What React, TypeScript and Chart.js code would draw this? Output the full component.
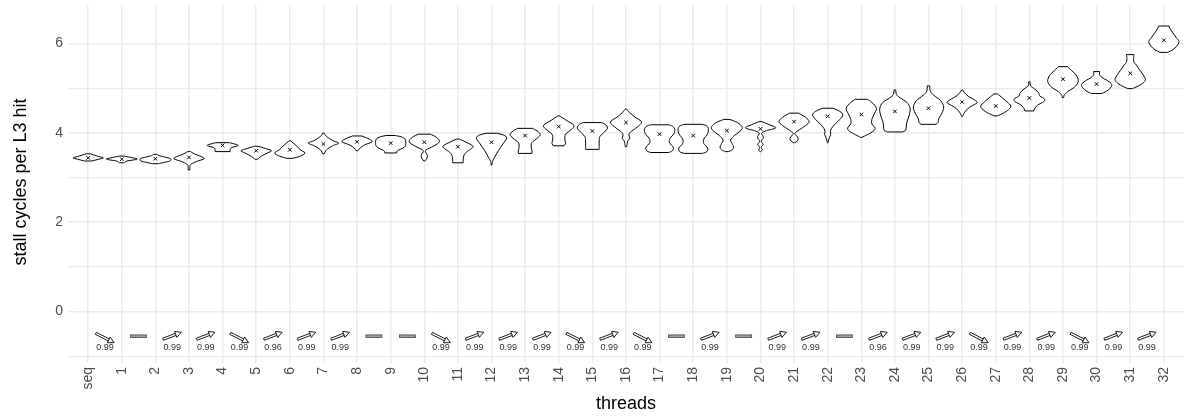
import React, { useEffect, useRef } from 'react';
import { Chart, registerables } from 'chart.js';

Chart.register(...registerables);

const FONT = '"Liberation Sans", Arial, Helvetica, sans-serif';

// categories (x axis)
const threadLabels = ['seq', '1', '2', '3', '4', '5', '6', '7', '8', '9', '10', '11', '12', '13', '14', '15', '16', '17', '18', '19', '20', '21', '22', '23', '24', '25', '26', '27', '28', '29', '30', '31', '32'];

// mean value per category (the "x" markers)
const meanStallCycles = [3.44, 3.41, 3.42, 3.45, 3.72, 3.60, 3.62, 3.75, 3.80, 3.77, 3.79, 3.69, 3.79, 3.94, 4.14, 4.04, 4.23, 3.97, 3.94, 4.05, 4.09, 4.25, 4.37, 4.41, 4.48, 4.55, 4.69, 4.60, 4.78, 5.20, 5.09, 5.33, 6.07];

// violin outlines: [value, relative half-width 0..1], bottom to top
const violinProfiles: number[][][] = [
  [[3.37, 0.25], [3.41, 0.7], [3.44, 1], [3.47, 0.7], [3.53, 0.15]],
  [[3.33, 0.15], [3.37, 0.35], [3.40, 0.9], [3.42, 1], [3.45, 0.6], [3.48, 0.15]],
  [[3.31, 0.2], [3.34, 0.6], [3.37, 0.95], [3.42, 1], [3.46, 0.6], [3.49, 0.25], [3.52, 0.1]],
  [[3.17, 0.06], [3.25, 0.06], [3.30, 0.15], [3.36, 0.5], [3.42, 1], [3.47, 0.8], [3.53, 0.35], [3.58, 0.1]],
  [[3.58, 0.5], [3.63, 0.5], [3.67, 0.6], [3.71, 1], [3.74, 0.9], [3.78, 0.45]],
  [[3.41, 0.1], [3.47, 0.3], [3.55, 0.75], [3.60, 1], [3.65, 0.6], [3.70, 0.1]],
  [[3.43, 0.2], [3.48, 0.7], [3.55, 1], [3.62, 0.7], [3.72, 0.4], [3.82, 0.05]],
  [[3.53, 0.05], [3.62, 0.2], [3.71, 0.6], [3.77, 1], [3.83, 0.6], [3.92, 0.2], [3.99, 0.05]],
  [[3.60, 0.05], [3.66, 0.2], [3.73, 0.5], [3.80, 1], [3.86, 0.8], [3.93, 0.3]],
  [[3.55, 0.4], [3.60, 0.45], [3.68, 0.9], [3.76, 1], [3.86, 0.95], [3.91, 0.7], [3.94, 0.3]],
  [[3.37, 0.03], [3.43, 0.17], [3.50, 0.2], [3.57, 0.08], [3.62, 0.12], [3.70, 0.6], [3.80, 1], [3.90, 0.8], [3.97, 0.4]],
  [[3.33, 0.35], [3.40, 0.35], [3.50, 0.4], [3.58, 0.6], [3.69, 1], [3.78, 0.6], [3.86, 0.1]],
  [[3.28, 0.03], [3.36, 0.06], [3.45, 0.2], [3.60, 0.45], [3.75, 0.75], [3.88, 1], [3.95, 0.8], [3.99, 0.35]],
  [[3.54, 0.45], [3.60, 0.45], [3.68, 0.4], [3.78, 0.45], [3.88, 0.8], [3.96, 1], [4.04, 0.8], [4.10, 0.5]],
  [[3.71, 0.35], [3.76, 0.45], [3.86, 0.4], [3.97, 0.45], [4.08, 0.85], [4.17, 1], [4.28, 0.5], [4.38, 0.05]],
  [[3.63, 0.45], [3.72, 0.45], [3.82, 0.45], [3.92, 0.5], [4.02, 0.8], [4.11, 1], [4.19, 0.85], [4.23, 0.6]],
  [[3.69, 0.05], [3.76, 0.08], [3.82, 0.12], [3.88, 0.25], [3.93, 0.2], [4.00, 0.25], [4.08, 0.55], [4.19, 0.95], [4.26, 1], [4.35, 0.6], [4.45, 0.25], [4.53, 0.05]],
  [[3.56, 0.6], [3.60, 0.85], [3.68, 0.9], [3.78, 0.65], [3.88, 0.7], [3.98, 0.95], [4.08, 1], [4.15, 0.85], [4.18, 0.6]],
  [[3.54, 0.6], [3.58, 0.9], [3.66, 0.95], [3.76, 0.7], [3.86, 0.7], [3.98, 0.95], [4.10, 1], [4.16, 0.85], [4.19, 0.6]],
  [[3.58, 0.1], [3.62, 0.35], [3.68, 0.45], [3.76, 0.35], [3.84, 0.25], [3.94, 0.5], [4.06, 0.95], [4.14, 1], [4.23, 0.7], [4.30, 0.2]],
  [[3.58, 0.02], [3.62, 0.12], [3.68, 0.05], [3.74, 0.18], [3.81, 0.05], [3.90, 0.2], [3.99, 0.08], [4.05, 0.4], [4.11, 1], [4.18, 0.6], [4.25, 0.1]],
  [[3.78, 0.05], [3.82, 0.22], [3.88, 0.27], [3.94, 0.15], [3.99, 0.05], [4.07, 0.35], [4.16, 0.75], [4.25, 1], [4.35, 0.75], [4.44, 0.3]],
  [[3.78, 0.03], [3.84, 0.06], [3.90, 0.12], [3.96, 0.2], [4.03, 0.18], [4.10, 0.25], [4.20, 0.5], [4.30, 0.8], [4.40, 1], [4.48, 0.8], [4.55, 0.35]],
  [[3.90, 0.05], [3.96, 0.4], [4.04, 0.8], [4.11, 0.9], [4.20, 0.7], [4.30, 0.7], [4.42, 0.85], [4.55, 1], [4.68, 0.7], [4.75, 0.4]],
  [[4.02, 0.5], [4.06, 0.72], [4.15, 0.75], [4.25, 0.8], [4.40, 0.95], [4.55, 1], [4.68, 0.8], [4.78, 0.35], [4.86, 0.1], [4.96, 0.06]],
  [[4.19, 0.5], [4.23, 0.62], [4.32, 0.68], [4.45, 0.9], [4.58, 1], [4.72, 0.8], [4.84, 0.35], [4.93, 0.12], [5.05, 0.08]],
  [[4.37, 0.03], [4.45, 0.15], [4.55, 0.4], [4.63, 0.8], [4.68, 1], [4.74, 0.8], [4.82, 0.4], [4.90, 0.15], [4.96, 0.03]],
  [[4.38, 0.12], [4.44, 0.5], [4.52, 0.85], [4.60, 1], [4.69, 0.75], [4.78, 0.45], [4.87, 0.12]],
  [[4.49, 0.3], [4.54, 0.35], [4.62, 0.55], [4.70, 0.95], [4.76, 1], [4.82, 0.7], [4.90, 0.6], [4.98, 0.35], [5.05, 0.08], [5.14, 0.05]],
  [[4.79, 0.05], [4.84, 0.08], [4.92, 0.3], [5.02, 0.75], [5.12, 0.98], [5.20, 1], [5.30, 0.85], [5.40, 0.55], [5.48, 0.3]],
  [[4.88, 0.35], [4.93, 0.65], [5.00, 0.9], [5.08, 1], [5.16, 0.75], [5.24, 0.35], [5.30, 0.2], [5.37, 0.2]],
  [[4.99, 0.15], [5.05, 0.55], [5.13, 0.9], [5.20, 1], [5.30, 0.85], [5.42, 0.6], [5.52, 0.4], [5.58, 0.25], [5.66, 0.22], [5.75, 0.25]],
  [[5.80, 0.25], [5.86, 0.6], [5.94, 0.85], [6.04, 1], [6.14, 0.8], [6.26, 0.55], [6.34, 0.4], [6.39, 0.35]],
];

// change between neighbouring categories
const trendDirections = ['down', 'flat', 'up', 'up', 'down', 'up', 'up', 'up', 'flat', 'flat', 'down', 'up', 'up', 'up', 'down', 'up', 'down', 'flat', 'up', 'flat', 'up', 'up', 'flat', 'up', 'up', 'up', 'down', 'up', 'up', 'down', 'up', 'up'];
const trendConfidence: (number | null)[] = [0.99, null, 0.99, 0.99, 0.99, 0.96, 0.99, 0.99, null, null, 0.99, 0.99, 0.99, 0.99, 0.99, 0.99, 0.99, null, 0.99, null, 0.99, 0.99, null, 0.96, 0.99, 0.99, 0.99, 0.99, 0.99, 0.99, 0.99, 0.99];

// y axis grid / labels
const yGridValues = [-1, 0, 1, 2, 3, 4, 5, 6];
const yLabelValues = [0, 2, 4, 6];

const violinPlugin = {
  id: 'violins',
  beforeDatasetsDraw(chart: any) {
    const { ctx, scales } = chart;
    const xs = scales.x;
    const ys = scales.y;
    const hw = (xs.getPixelForValue(0.45) - xs.getPixelForValue(0));
    ctx.save();
    ctx.lineWidth = 1;
    ctx.strokeStyle = '#000';
    ctx.fillStyle = '#fff';
    ctx.lineJoin = 'round';
    violinProfiles.forEach((prof, i) => {
      const cx = xs.getPixelForValue(i);
      const right = prof.map(([v, w]) => ({ x: cx + w * hw, y: ys.getPixelForValue(v) }));
      const left = prof.slice().reverse().map(([v, w]) => ({ x: cx - w * hw, y: ys.getPixelForValue(v) }));
      const spline = (pts: { x: number; y: number }[]) => {
        for (let k = 0; k < pts.length - 1; k++) {
          const p0 = pts[Math.max(0, k - 1)];
          const p1 = pts[k];
          const p2 = pts[k + 1];
          const p3 = pts[Math.min(pts.length - 1, k + 2)];
          ctx.bezierCurveTo(
            p1.x + (p2.x - p0.x) / 6, p1.y + (p2.y - p0.y) / 6,
            p2.x - (p3.x - p1.x) / 6, p2.y - (p3.y - p1.y) / 6,
            p2.x, p2.y,
          );
        }
      };
      ctx.beginPath();
      ctx.moveTo(right[0].x, right[0].y);
      spline(right);
      ctx.lineTo(left[0].x, left[0].y);
      spline(left);
      ctx.closePath();
      ctx.fill();
      ctx.stroke();
    });
    ctx.restore();
  },
};

const trendPlugin = {
  id: 'trends',
  afterDatasetsDraw(chart: any) {
    const { ctx, scales } = chart;
    const xs = scales.x;
    const ys = scales.y;
    ctx.save();
    trendDirections.forEach((dir, i) => {
      const cx = xs.getPixelForValue(i + 0.5);
      if (dir === 'flat') {
        const cy = ys.getPixelForValue(-0.55);
        ctx.fillStyle = '#a0a0a0';
        ctx.strokeStyle = '#444';
        ctx.lineWidth = 0.8;
        ctx.fillRect(cx - 8, cy - 1.3, 16, 2.6);
        ctx.strokeRect(cx - 8, cy - 1.3, 16, 2.6);
      } else {
        const up = dir === 'up';
        const cy = ys.getPixelForValue(up ? -0.54 : -0.59);
        const ang = up ? -21 * Math.PI / 180 : 27 * Math.PI / 180;
        const L = up ? 19.5 : 20.5;
        const hl = 6;
        ctx.save();
        ctx.translate(cx, cy);
        ctx.rotate(ang);
        ctx.strokeStyle = '#000';
        ctx.lineWidth = 0.8;
        ctx.beginPath();
        ctx.moveTo(-L / 2, -1.1);
        ctx.lineTo(L / 2 - hl, -1.1);
        ctx.moveTo(-L / 2, 1.1);
        ctx.lineTo(L / 2 - hl, 1.1);
        ctx.moveTo(-L / 2, -1.1);
        ctx.lineTo(-L / 2, 1.1);
        ctx.stroke();
        ctx.beginPath();
        ctx.moveTo(L / 2, 0);
        ctx.lineTo(L / 2 - hl, -3.2);
        ctx.lineTo(L / 2 - hl, 3.2);
        ctx.closePath();
        ctx.fillStyle = '#fff';
        ctx.fill();
        ctx.stroke();
        ctx.restore();
      }
      const conf = trendConfidence[i];
      if (conf !== null) {
        ctx.fillStyle = '#333';
        ctx.font = `9px ${FONT}`;
        ctx.textAlign = 'center';
        ctx.textBaseline = 'middle';
        ctx.fillText(conf.toFixed(2), cx, ys.getPixelForValue(-0.8));
      }
    });
    ctx.restore();
  },
};

export default function App() {
  const canvasRef = useRef<HTMLCanvasElement | null>(null);

  useEffect(() => {
    const canvas = canvasRef.current;
    if (!canvas) return;
    const chart = new Chart(canvas, {
      type: 'scatter',
      data: {
        datasets: [
          {
            label: 'mean',
            data: meanStallCycles.map((m, i) => ({ x: i, y: m })),
            pointStyle: 'crossRot',
            pointRadius: 2.5,
            borderColor: '#000',
            backgroundColor: '#000',
            borderWidth: 1,
            showLine: false,
          },
        ],
      },
      options: {
        animation: false,
        responsive: false,
        maintainAspectRatio: false,
        events: [],
        layout: { padding: { top: 5, right: 0, bottom: 0, left: 0 } },
        plugins: { legend: { display: false }, tooltip: { enabled: false } },
        scales: {
          x: {
            type: 'linear',
            min: -0.6,
            max: 32.6,
            afterBuildTicks: (s: any) => {
              s.ticks = threadLabels.map((_, i) => ({ value: i }));
            },
            afterFit: (s: any) => {
              s.height = 57;
              s.paddingLeft = 0;
              s.paddingRight = 0;
            },
            grid: { color: '#ebebeb', lineWidth: 1.5, drawTicks: true, tickLength: 4, tickColor: '#ebebeb', tickWidth: 1.5 },
            border: { display: false },
            ticks: {
              autoSkip: false,
              minRotation: 90,
              maxRotation: 90,
              padding: 4,
              color: '#4d4d4d',
              font: { family: FONT, size: 14 },
              callback: (v: any) => threadLabels[Math.round(Number(v))] ?? '',
            },
            title: {
              display: true,
              text: 'threads',
              color: '#000',
              font: { family: FONT, size: 18 },
              padding: { top: 0, bottom: 1.2 },
            },
          },
          y: {
            type: 'linear',
            min: -1.06,
            max: 6.86,
            afterBuildTicks: (s: any) => {
              s.ticks = yGridValues.map((v) => ({ value: v }));
            },
            afterFit: (s: any) => {
              s.width = 68;
              s.paddingTop = 0;
              s.paddingBottom = 0;
            },
            grid: {
              color: '#ebebeb',
              lineWidth: (c: any) => (c.tick && yLabelValues.includes(c.tick.value) ? 1.5 : 1.2),
              drawTicks: false,
            },
            border: { display: false },
            ticks: {
              padding: 5,
              color: '#4d4d4d',
              font: { family: FONT, size: 14 },
              callback: (v: any) => (yLabelValues.includes(Number(v)) ? String(v) : ''),
            },
            title: {
              display: true,
              text: 'stall cycles per L3 hit',
              color: '#000',
              font: { family: FONT, size: 18 },
              padding: { top: 10.7, bottom: 0 },
            },
          },
        },
      } as any,
      plugins: [violinPlugin, trendPlugin],
    });
    return () => chart.destroy();
  }, []);

  return (
    <div style={{ position: 'absolute', left: 0, top: 0, width: 1189, height: 416, background: '#fff' }}>
      <canvas ref={canvasRef} width={1189} height={416} style={{ display: 'block', width: 1189, height: 416 }} />
    </div>
  );
}
